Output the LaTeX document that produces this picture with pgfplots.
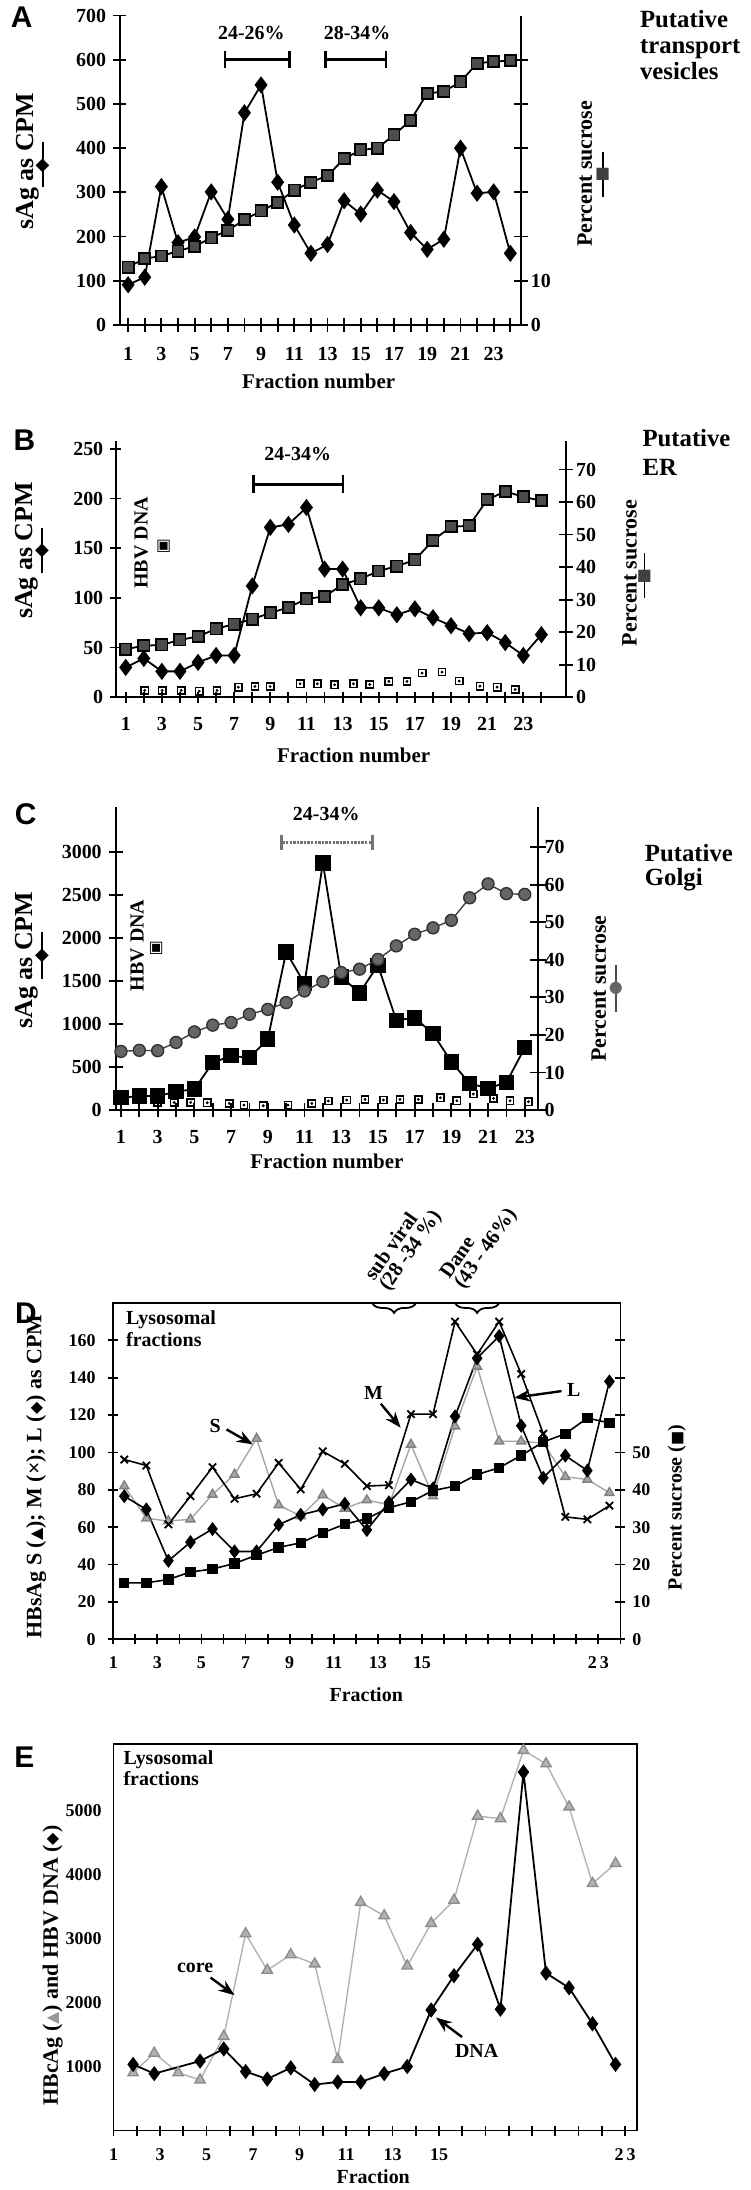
\documentclass[border=0pt]{standalone}
\usepackage{fontspec}
\setmainfont{Liberation Serif}
\newfontfamily\sansf{Liberation Sans}
\newfontfamily\dv{DejaVu Sans}
\usepackage{pgfplots}
\pgfplotsset{compat=1.18}
\usetikzlibrary{arrows.meta,decorations.pathreplacing}

\newcommand\fA{\fontsize{10pt}{12pt}\selectfont\bfseries}
\newcommand\fL{\fontsize{13pt}{15pt}\selectfont\bfseries}
\newcommand\fR{\fontsize{11pt}{13pt}\selectfont\bfseries}
\newcommand\fT{\fontsize{12.4pt}{14pt}\selectfont\bfseries}
\newcommand\fP{\fontsize{15pt}{18pt}\selectfont\sansf\bfseries}
\newcommand\fD{\fontsize{9pt}{11pt}\selectfont\bfseries}
\newcommand\fDL{\fontsize{10pt}{11.5pt}\selectfont\bfseries}
\newcommand\fDY{\fontsize{11pt}{12pt}\selectfont\bfseries}
\newcommand\fX{\fontsize{10.5pt}{12pt}\selectfont\bfseries}
\newcommand\fS{\fontsize{10.3pt}{8.8pt}\selectfont\bfseries}
\newcommand\fG{\dv\fontsize{8pt}{8pt}\selectfont}

\pgfplotsset{
  panel/.style={anchor=south west, scale only axis, clip=false, tick align=center,
    tick style={line width=0.9pt, black}, axis line style={line width=1pt},
    scaled ticks=false, /pgf/number format/assume math mode=true,
    /pgf/number format/1000 sep={}},
}

\begin{document}
\begin{tikzpicture}
\path (0,0) rectangle (376pt,-1095pt);

% ================= A =================
\begin{axis}[panel, at={(60pt,-162.5pt)}, width=201pt, height=155pt,
  xmin=0.495, xmax=24.64, ymin=0, ymax=700,
  axis x line*=bottom, axis y line*=left,
  xtick={1,...,24}, xticklabels={1,,3,,5,,7,,9,,11,,13,,15,,17,,19,,21,,23,},
  ytick={0,100,...,700}, major tick length=6.7pt,
  ticklabel style={font=\fA}, xticklabel style={yshift=-4.25pt}]
\addplot[black, line width=0.9pt, mark=diamond*, mark size=3.6pt] coordinates {
(1,91)(2,108)(3,313)(4,186)(5,199)(6,301)(7,239)(8,480)(9,543)(10,323)(11,226)(12,162)
(13,182)(14,281)(15,251)(16,305)(17,279)(18,209)(19,171)(20,194)(21,400)(22,298)(23,301)(24,162)};
\draw[line width=1.4pt, {Bar[width=8.5pt]}-{Bar[width=8.5pt]}] (axis cs:6.75,600) -- (axis cs:10.8,600);
\draw[line width=1.4pt, {Bar[width=8.5pt]}-{Bar[width=8.5pt]}] (axis cs:12.8,600) -- (axis cs:16.6,600);
\end{axis}
\begin{axis}[panel, at={(60pt,-162.5pt)}, width=201pt, height=155pt,
  xmin=0.495, xmax=24.64, ymin=0, ymax=70,
  axis x line=none, axis y line*=right, xtick=\empty,
  ytick={0,10,...,60}, yticklabels={0,10,,,,,}, major tick length=7pt,
  ticklabel style={font=\fA}, yticklabel style={xshift=-2pt}]
\addplot[black, line width=0.9pt, mark=square*, mark size=2.8pt, mark options={fill=black!70, draw=black}] coordinates {
(1,13.1)(2,15.0)(3,15.6)(4,16.7)(5,17.8)(6,19.7)(7,21.4)(8,23.8)(9,25.8)(10,27.7)(11,30.5)(12,32.3)
(13,33.8)(14,37.6)(15,39.6)(16,40.0)(17,43.0)(18,46.3)(19,52.4)(20,52.8)(21,55.0)(22,59.2)(23,59.6)(24,59.8)};
\end{axis}
\node[anchor=base, font=\fP] at (10.85pt,-13.35pt) {A};
\node[anchor=base, font=\fA] at (125.95pt,-19.7pt) {24-26\%};
\node[anchor=base, font=\fA] at (178.9pt,-19.7pt) {28-34\%};
\node[anchor=base west, font=\fT, inner sep=0] at (320.5pt,-13.5pt) {Putative};
\node[anchor=base west, font=\fT, inner sep=0] at (320.5pt,-26.5pt) {transport};
\node[anchor=base west, font=\fT, inner sep=0] at (320.5pt,-39.5pt) {vesicles};
\node[rotate=90, anchor=base, font=\fL, inner sep=0] at (16.75pt,-80.5pt) {sAg as CPM};
\draw[line width=0.9pt] (21.35pt,-70.85pt) -- (21.35pt,-93.35pt);
\node[inner sep=0, font=\dv\fontsize{9pt}{9pt}\selectfont] at (21.35pt,-82.85pt) {◆};
\node[rotate=90, anchor=base, font=\fR, inner sep=0] at (296.5pt,-86.8pt) {Percent sucrose};
\draw[line width=0.9pt] (302pt,-76pt) -- (302pt,-98.5pt);
\node[inner sep=0, text=black!75, font=\dv\fontsize{8pt}{8pt}\selectfont] at (302pt,-87pt) {■};
\node[anchor=base, font=\fX] at (159.65pt,-194.5pt) {Fraction number};

% ================= B =================
\begin{axis}[panel, at={(58pt,-349pt)}, width=225.65pt, height=128.55pt,
  xmin=0.448, xmax=25.37, ymin=0, ymax=258.4,
  axis x line*=bottom, axis y line*=left,
  xtick={1,...,24}, xticklabels={1,,3,,5,,7,,9,,11,,13,,15,,17,,19,,21,,23,},
  ytick={0,50,...,250}, major tick length=5.5pt,
  ticklabel style={font=\fA}, xticklabel style={yshift=-4pt}]
\addplot[black, line width=0.9pt, mark=diamond*, mark size=3.6pt] coordinates {
(1,30)(2,39)(3,26)(4,26)(5,35)(6,42)(7,42)(8,112)(9,171)(10,174)(11,191)(12,129)
(13,129)(14,90)(15,90)(16,83)(17,89)(18,80)(19,72)(20,64)(21,65)(22,55)(23,42)(24,63)};
\addplot[only marks, mark=square, mark size=1.8pt, mark options={fill=white, draw=black, line width=0.8pt}] coordinates {
(2.05,6.8)(3.02,6.8)(4.07,6.8)(5.07,6.1)(6.05,6.8)(7.23,10.1)(8.15,10.8)(8.99,10.8)(10.65,13.5)(11.6,13.5)
(12.56,12.5)(13.6,13.5)(14.5,12.8)(15.56,15.9)(16.56,15.9)(17.4,24.3)(18.5,25.3)(19.45,16.2)(20.6,11.1)(21.55,10.1)(22.55,7.8)};
\addplot[only marks, mark=*, mark size=0.5pt, black] coordinates {
(2.05,6.8)(3.02,6.8)(4.07,6.8)(5.07,6.1)(6.05,6.8)(7.23,10.1)(8.15,10.8)(8.99,10.8)(10.65,13.5)(11.6,13.5)
(12.56,12.5)(13.6,13.5)(14.5,12.8)(15.56,15.9)(16.56,15.9)(17.4,24.3)(18.5,25.3)(19.45,16.2)(20.6,11.1)(21.55,10.1)(22.55,7.8)};
\draw[line width=1.4pt, {Bar[width=9pt]}-{Bar[width=9pt]}] (axis cs:8.0,214.5) -- (axis cs:13.1,214.5);
\end{axis}
\begin{axis}[panel, at={(58pt,-349pt)}, width=225.65pt, height=128.55pt,
  xmin=0.448, xmax=25.37, ymin=0, ymax=78.9,
  axis x line=none, axis y line*=right, xtick=\empty,
  ytick={0,10,...,70}, major tick length=7pt,
  ticklabel style={font=\fA}, yticklabel style={xshift=-2pt}]
\addplot[black, line width=0.9pt, mark=square*, mark size=2.8pt, mark options={fill=black!70, draw=black}] coordinates {
(1,14.8)(2,15.8)(3,16.1)(4,17.6)(5,18.7)(6,21.0)(7,22.5)(8,24.0)(9,25.9)(10,27.6)(11,30.2)(12,31.0)
(13,34.6)(14,36.4)(15,38.8)(16,40.3)(17,42.2)(18,48.2)(19,52.4)(20,52.7)(21,60.7)(22,63.3)(23,61.6)(24,60.4)};
\end{axis}
\node[anchor=base, font=\fP] at (12.3pt,-225.3pt) {B};
\node[anchor=base west, font=\fT, inner sep=0] at (321.7pt,-223.6pt) {Putative};
\node[anchor=base west, font=\fT, inner sep=0] at (321.7pt,-237.9pt) {ER};
\node[anchor=base, font=\fA] at (149.15pt,-230.6pt) {24-34\%};
\node[rotate=90, anchor=base, font=\fL, inner sep=0] at (16.5pt,-275.5pt) {sAg as CPM};
\draw[line width=0.9pt] (21pt,-264pt) -- (21pt,-287pt);
\node[inner sep=0, font=\dv\fontsize{9pt}{9pt}\selectfont] at (21pt,-275.9pt) {◆};
\node[rotate=90, anchor=base, font=\fA, inner sep=0] at (74pt,-271.7pt) {HBV DNA};
\node[inner sep=0, font=\fG] at (82pt,-273.35pt) {▣};
\node[rotate=90, anchor=base, font=\fR, inner sep=0] at (319pt,-286.8pt) {Percent sucrose};
\draw[line width=0.9pt] (322.9pt,-276.75pt) -- (322.9pt,-299.4pt);
\node[inner sep=0, text=black!75, font=\dv\fontsize{8pt}{8pt}\selectfont] at (322.9pt,-288.5pt) {■};
\node[anchor=base, font=\fX] at (177.15pt,-381.85pt) {Fraction number};

% ================= C =================
\begin{axis}[panel, at={(58pt,-555.85pt)}, width=211.35pt, height=151.7pt,
  xmin=0.717, xmax=23.70, ymin=0, ymax=3522,
  axis x line*=bottom, axis y line*=left,
  xtick={1,...,23}, xticklabels={1,,3,,5,,7,,9,,11,,13,,15,,17,,19,,21,,23},
  ytick={0,500,...,3000}, major tick length=7pt,
  ticklabel style={font=\fA}, xticklabel style={yshift=-3.2pt}]
\addplot[only marks, mark=square, mark size=1.8pt, mark options={fill=white, draw=black, line width=0.8pt}] coordinates {
(3,89)(3.9,89)(4.8,89)(5.7,85)(6.9,77)(7.7,58)(8.75,50)(10.1,58)(11.4,77)(12.3,105)(13.3,116)
(14.3,124)(15.3,116)(16.2,124)(17.2,124)(18.4,143)(19.3,108)(20.2,186)(21.3,135)(22.2,108)(23.2,97)};
\addplot[only marks, mark=*, mark size=0.5pt, black] coordinates {
(3,89)(3.9,89)(4.8,89)(5.7,85)(6.9,77)(7.7,58)(8.75,50)(10.1,58)(11.4,77)(12.3,105)(13.3,116)
(14.3,124)(15.3,116)(16.2,124)(17.2,124)(18.4,143)(19.3,108)(20.2,186)(21.3,135)(22.2,108)(23.2,97)};
\addplot[black, line width=0.9pt, mark=square*, mark size=3.4pt] coordinates {
(1,143)(2,163)(3,163)(4,213)(5,244)(6,550)(7,631)(8,608)(9,825)(10,1839)(11,1471)(12,2873)
(13,1549)(14,1363)(15,1684)(16,1045)(17,1072)(18,890)(19,561)(20,310)(21,252)(22,321)(23,724)};
\draw[line width=1.5pt, black!55, dash pattern=on 1.2pt off 0.6pt, {Bar[width=7.5pt]}-{Bar[width=7.5pt]}] (axis cs:9.67,3116) -- (axis cs:14.77,3116);
\end{axis}
\begin{axis}[panel, at={(58pt,-555.85pt)}, width=211.35pt, height=151.7pt,
  xmin=0.717, xmax=23.70, ymin=0, ymax=80.6,
  axis x line=none, axis y line*=right, xtick=\empty,
  ytick={0,10,...,70}, major tick length=8pt,
  ticklabel style={font=\fA}, yticklabel style={xshift=-4pt}]
\addplot[black!75, line width=0.7pt, mark=*, mark size=3pt, mark options={fill=black!60, draw=black!80}] coordinates {
(1,15.6)(2,15.9)(3,15.8)(4,18.0)(5,20.8)(6,22.6)(7,23.3)(8,25.5)(9,26.8)(10,28.6)(11,31.7)(12,34.2)
(13,36.6)(14,37.5)(15,40.1)(16,43.7)(17,46.8)(18,48.5)(19,50.5)(20,56.5)(21,60.2)(22,57.6)(23,57.4)};
\end{axis}
\node[anchor=base, font=\fP] at (12.9pt,-412.85pt) {C};
\node[anchor=base west, font=\fT, inner sep=0] at (322.9pt,-431.5pt) {Putative};
\node[anchor=base west, font=\fT, inner sep=0] at (322.9pt,-443.5pt) {Golgi};
\node[anchor=base, font=\fA] at (163.45pt,-411pt) {24-34\%};
\node[rotate=90, anchor=base, font=\fL, inner sep=0] at (16.5pt,-480.85pt) {sAg as CPM};
\draw[line width=0.9pt] (21pt,-466.5pt) -- (21pt,-490pt);
\node[inner sep=0, font=\dv\fontsize{9pt}{9pt}\selectfont] at (21pt,-478.35pt) {◆};
\node[rotate=90, anchor=base, font=\fA, inner sep=0] at (72pt,-473.35pt) {HBV DNA};
\node[inner sep=0, font=\fG] at (78.25pt,-474.65pt) {▣};
\node[rotate=90, anchor=base, font=\fR, inner sep=0] at (303.5pt,-495pt) {Percent sucrose};
\draw[line width=0.9pt, black!70] (308.6pt,-483.35pt) -- (308.6pt,-506.65pt);
\node[inner sep=0, text=black!60, font=\dv\fontsize{8pt}{8pt}\selectfont] at (308.6pt,-495pt) {●};
\node[anchor=base, font=\fX] at (163.8pt,-585.15pt) {Fraction number};

% ================= D =================
\begin{axis}[panel, at={(56.75pt,-821pt)}, width=254.1pt, height=168.5pt,
  xmin=1, xmax=24, ymin=0, ymax=180, axis line style={line width=0.8pt},
  xtick pos=bottom, ytick pos=left,
  xtick={1,...,24}, xticklabels={1,,3,,5,,7,,9,,11,,13,,15,,,,,,,,{2\,3},},
  ytick={0,20,...,160}, major tick length=5pt,
  ticklabel style={font=\fD}, yticklabel style={xshift=-2.8pt}, xticklabel style={yshift=-2.5pt}]
\addplot[black!35, line width=0.7pt, mark=triangle*, mark size=2.6pt, mark options={fill=black!35, draw=black!50}] coordinates {
(1.5,82)(2.5,64.7)(3.5,63.3)(4.5,64.2)(5.5,77.5)(6.5,88.2)(7.5,107.4)(8.5,71.8)(9.5,66)(10.5,77.2)(11.5,70)(12.5,74.5)
(13.5,72)(14.5,104.2)(15.5,76.6)(16.5,114)(17.5,146)(18.5,106)(19.5,106)(20.5,105)(21.5,87)(22.5,85.5)(23.5,78.4)};
\addplot[black, line width=0.8pt, mark=x, mark size=2.6pt, mark options={line width=0.9pt}] coordinates {
(1.5,96.2)(2.5,93)(3.5,61.5)(4.5,76.6)(5.5,92.1)(6.5,75.2)(7.5,77.9)(8.5,94.4)(9.5,80.2)(10.5,100.6)(11.5,93.9)(12.5,82)
(13.5,82.5)(14.5,120.5)(15.5,120.5)(16.5,170)(17.5,152.5)(18.5,170)(19.5,142)(20.5,110)(21.5,65.5)(22.5,64.2)(23.5,71.5)};
\addplot[black, line width=0.8pt, mark=diamond*, mark size=2.9pt] coordinates {
(1.5,76.6)(2.5,69.5)(3.5,42)(4.5,52)(5.5,59)(6.5,47)(7.5,47)(8.5,61.3)(9.5,66.6)(10.5,69.5)(11.5,72.5)(12.5,58.5)
(13.5,73.3)(14.5,85.5)(15.5,80.7)(16.5,119.3)(17.5,150.4)(18.5,162.3)(19.5,114.3)(20.5,86.4)(21.5,98.3)(22.5,90.3)(23.5,138)};
\draw[line width=0.9pt, decorate, decoration={brace, amplitude=5pt}] (axis cs:14.73,180) -- (axis cs:12.74,180);
\draw[line width=0.9pt, decorate, decoration={brace, amplitude=5pt}] (axis cs:18.5,180) -- (axis cs:16.5,180);
\end{axis}
\begin{axis}[panel, at={(56.75pt,-821pt)}, width=254.1pt, height=168.5pt,
  xmin=1, xmax=24, ymin=0, ymax=90, axis line style={line width=0.8pt},
  axis x line=none, axis y line*=right, xtick=\empty,
  ytick={0,10,...,80}, yticklabels={0,10,20,30,40,50,,,}, major tick length=5pt,
  ticklabel style={font=\fD}]
\addplot[black, line width=0.8pt, mark=square*, mark size=2.2pt] coordinates {
(1.5,15.1)(2.5,15.1)(3.5,16)(4.5,18)(5.5,18.8)(6.5,20.3)(7.5,22.5)(8.5,24.6)(9.5,25.8)(10.5,28.5)(11.5,30.8)(12.5,32.3)
(13.5,35.2)(14.5,36.8)(15.5,39.8)(16.5,41)(17.5,44.1)(18.5,45.9)(19.5,49.2)(20.5,52.8)(21.5,55)(22.5,59.2)(23.5,57.9)};
\end{axis}
\node[anchor=base, font=\fP] at (13pt,-662.85pt) {D};
\node[anchor=base west, font=\fDL, inner sep=0] at (63pt,-663.25pt) {Lysosomal};
\node[anchor=base west, font=\fDL, inner sep=0] at (63pt,-674.1pt) {fractions};
\node[rotate=55, anchor=south west, align=left, font=\fS, inner sep=0] at (196.5pt,-648.5pt) {sub viral\\(28 -34 \%)};
\node[rotate=55, anchor=south west, align=left, font=\fS, inner sep=0] at (234.15pt,-647.5pt) {Dane\\(43 - 46\%)};
\node[anchor=base, font=\fDL] at (107.75pt,-717.3pt) {S};
\draw[line width=1.2pt, -{Stealth[length=8pt,width=6pt]}] (113.5pt,-715.85pt) -- (126.65pt,-723.35pt);
\node[anchor=base, font=\fDL] at (187.2pt,-701pt) {M};
\draw[line width=1.2pt, -{Stealth[length=8pt,width=6pt]}] (190.8pt,-703pt) -- (200.75pt,-715pt);
\node[anchor=base, font=\fDL] at (287.5pt,-699.5pt) {L};
\draw[line width=1.2pt, -{Stealth[length=8pt,width=6pt]}] (281.35pt,-696.65pt) -- (257.65pt,-700pt);
\node[rotate=90, anchor=base, font=\fDY, inner sep=0] at (20.75pt,-739.5pt) {HBsAg S ({\dv\fontsize{8pt}{8pt}\selectfont ▲}); M (×); L ({\dv\fontsize{8pt}{8pt}\selectfont ◆}) as CPM};
\node[rotate=90, anchor=base, font=\fDL, inner sep=0] at (341.5pt,-755pt) {Percent sucrose ({\dv\fontsize{7.5pt}{7.5pt}\selectfont ■})};
\node[anchor=base, font=\fDL] at (183.5pt,-852.25pt) {Fraction};

% ================= E =================
\begin{axis}[panel, at={(56.9pt,-1067.15pt)}, width=262.1pt, height=193.65pt,
  xmin=1, xmax=23.5, ymin=0, ymax=6033, axis line style={line width=0.8pt},
  xtick pos=bottom, ytick pos=left,
  xtick={1,...,23}, xticklabels={1,,3,,5,,7,,9,,11,,13,,15,,,,,,,,{2\,3}},
  ytick={1000,2000,...,5000}, ytick style={draw=none}, major tick length=5pt,
  ticklabel style={font=\fD}, xticklabel style={yshift=-3pt}]
\addplot[black!30, line width=0.7pt, mark=triangle*, mark size=3pt, mark options={fill=black!30, draw=black!45}] coordinates {
(1.84,902)(2.75,1209)(3.78,902)(4.72,791)(5.74,1471)(6.68,3072)(7.61,2503)(8.62,2745)(9.65,2601)(10.64,1111)(11.63,3562)
(12.64,3353)(13.63,2569)(14.66,3235)(15.64,3595)(16.66,4909)(17.64,4869)(18.63,5935)(19.6,5725)(20.59,5052)(21.6,3856)(22.59,4170)};
\addplot[black, line width=0.9pt, mark=diamond*, mark size=3.1pt] coordinates {
(1.84,1033)(2.75,889)(4.72,1085)(5.74,1275)(6.68,922)(7.61,804)(8.62,980)(9.65,719)(10.64,758)(11.63,758)(12.64,889)
(13.63,1000)(14.66,1882)(15.64,2418)(16.66,2908)(17.64,1895)(18.63,5595)(19.6,2458)(20.59,2229)(21.6,1667)(22.59,1033)};
\end{axis}
\node[anchor=base, font=\fP] at (12.25pt,-885pt) {E};
\node[anchor=base west, font=\fDL, inner sep=0] at (61.7pt,-883.7pt) {Lysosomal};
\node[anchor=base west, font=\fDL, inner sep=0] at (61.7pt,-894.2pt) {fractions};
\node[anchor=base, font=\fDL] at (97.8pt,-988pt) {core};
\draw[line width=1.2pt, -{Stealth[length=8pt,width=6pt]}] (105.5pt,-990.5pt) -- (117.5pt,-999.3pt);
\node[anchor=base, font=\fDL] at (238.8pt,-1030.55pt) {DNA};
\draw[line width=1.2pt, -{Stealth[length=8pt,width=6pt]}] (231.5pt,-1020.3pt) -- (218.4pt,-1010.5pt);
\node[rotate=90, anchor=base, font=\fDY, inner sep=0] at (29pt,-984.5pt) {HBcAg ({\dv\fontsize{8pt}{8pt}\selectfont\color{black!40}▲}) and HBV DNA ({\dv\fontsize{8pt}{8pt}\selectfont ◆})};
\node[anchor=base, font=\fDL] at (187pt,-1093.5pt) {Fraction};
\end{tikzpicture}
\end{document}
